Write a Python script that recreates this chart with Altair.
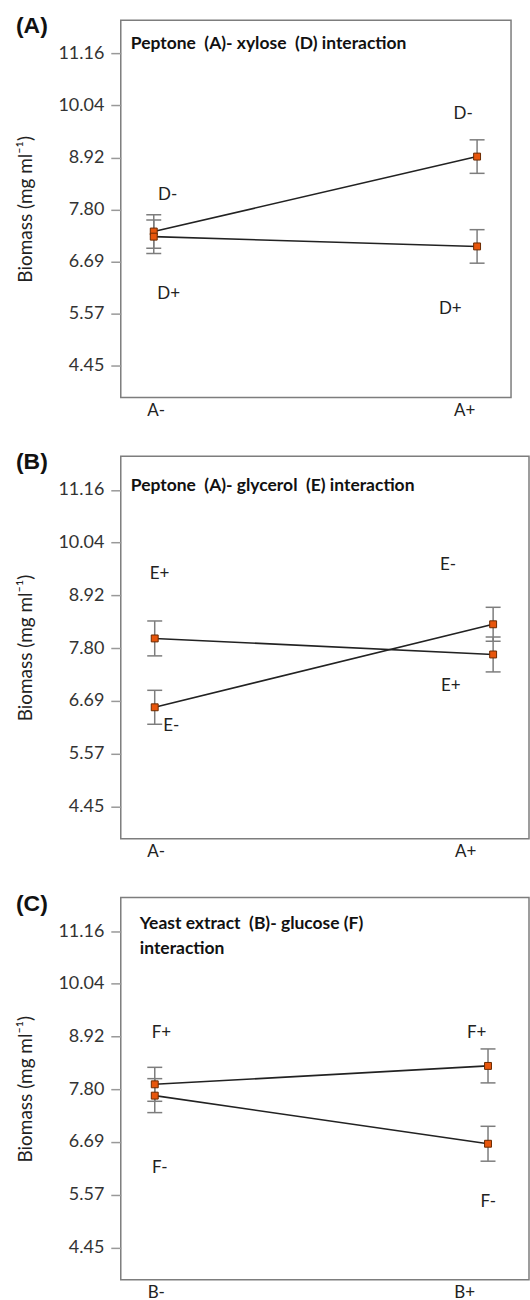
import altair as alt
import pandas as pd

FONT = "Lato"
Y_TICKS = [4.45, 5.57, 6.69, 7.80, 8.92, 10.04, 11.16]
Y_DOMAIN = [3.765, 11.87]
SP2 = "\u00a0 "  # visible double space

# ---------------- Panel A: Peptone (A) - xylose (D)
a_tag = "(A)"
a_title = [f"Peptone{SP2}(A)- xylose{SP2}(D) interaction"]
a_xnames = ["A-", "A+"]
a_series = ["D-", "D-", "D+", "D+"]
a_x = [0, 1, 0, 1]
a_mean = [7.33, 8.94, 7.22, 7.01]
a_err = [0.36, 0.36, 0.36, 0.36]
a_lab_text = ["D-", "D+", "D-", "D+"]
a_lab_x = [0.043, 0.046, 0.957, 0.917]
a_lab_y = [8.12, 5.98, 9.86, 5.66]

# ---------------- Panel B: Peptone (A) - glycerol (E)
b_tag = "(B)"
b_title = [f"Peptone{SP2}(A)- glycerol{SP2}(E) interaction"]
b_xnames = ["A-", "A+"]
b_series = ["E+", "E+", "E-", "E-"]
b_x = [0, 1, 0, 1]
b_mean = [8.01, 7.67, 6.55, 8.31]
b_err = [0.37, 0.37, 0.36, 0.36]
b_lab_text = ["E+", "E-", "E-", "E+"]
b_lab_x = [0.014, 0.049, 0.867, 0.875]
b_lab_y = [9.37, 6.16, 9.56, 7.01]

# ---------------- Panel C: Yeast extract (B) - glucose (F)
c_tag = "(C)"
c_title = [f"Yeast extract{SP2}(B)- glucose (F)", "interaction"]
c_xnames = ["B-", "B+"]
c_series = ["F+", "F+", "F-", "F-"]
c_x = [0, 1, 0, 1]
c_mean = [7.91, 8.30, 7.67, 6.65]
c_err = [0.36, 0.36, 0.36, 0.37]
c_lab_text = ["F+", "F-", "F+", "F-"]
c_lab_x = [0.020, 0.015, 0.966, 1.001]
c_lab_y = [8.99, 6.14, 9.00, 5.42]


def panel(tag, title_lines, title_pos, xnames, series, xs, means, errs,
          lt, lx, ly, width, height, xdom, loffs):
    df = pd.DataFrame({"series": series, "x": xs, "mean": means, "err": errs})
    df["lo"] = df["mean"] - df["err"]
    df["hi"] = df["mean"] + df["err"]
    labs = pd.DataFrame({"t": lt, "lx": lx, "ly": ly})

    xscale = alt.Scale(domain=xdom, nice=False, zero=False)
    yscale = alt.Scale(domain=Y_DOMAIN, nice=False, zero=False)
    xaxis = alt.Axis(
        values=[0, 1],
        labelExpr=f"datum.value < 0.5 ? '{xnames[0]}' : '{xnames[1]}'",
        ticks=False, domain=False, grid=False, title=None,
        labelFont=FONT, labelFontSize=17, labelColor="#222",
        labelPadding=5,
        labelOffset={"condition": {"test": "datum.value < 0.5", "value": loffs[0]},
                     "value": loffs[1]},
    )
    yaxis = alt.Axis(
        values=Y_TICKS, labelExpr="format(datum.value, '.2f')",
        grid=False, domain=False, tickSize=10, tickColor="#999", tickWidth=1.5,
        labelFont=FONT, labelFontSize=18, labelColor="#333", labelPadding=7,
        title="Biomass (mg ml⁻¹)", titleFont=FONT, titleFontSize=19,
        titleFontWeight="normal", titleColor="#222", titlePadding=22,
    )

    def X(f):
        return alt.X(f, type="quantitative", scale=xscale, axis=xaxis)

    def Y(f):
        return alt.Y(f, type="quantitative", scale=yscale, axis=yaxis)

    base = alt.Chart(df)
    rules = base.mark_rule(color="#7d7d7d", strokeWidth=1.5).encode(
        x=X("x"), y=Y("lo"), y2="hi")
    cap_lo = base.mark_tick(orient="horizontal", size=15, thickness=1.5,
                            color="#7d7d7d", opacity=1).encode(x=X("x"), y=Y("lo"))
    cap_hi = base.mark_tick(orient="horizontal", size=15, thickness=1.5,
                            color="#7d7d7d", opacity=1).encode(x=X("x"), y=Y("hi"))
    line = base.mark_line(color="#222", strokeWidth=1.6).encode(
        x=X("x"), y=Y("mean"), detail="series:N")
    pts = base.mark_square(size=48, filled=True, color="#e8560c", stroke="#6b2a00",
                           strokeWidth=1, opacity=1).encode(x=X("x"), y=Y("mean"))
    labels = alt.Chart(labs).mark_text(font=FONT, fontSize=17, color="#222").encode(
        x=X("lx"), y=Y("ly"), text="t:N")

    layers = [rules, cap_lo, cap_hi, line, pts, labels]
    tx, ty = title_pos
    for i, ln in enumerate(title_lines):
        layers.append(
            alt.Chart(pd.DataFrame({"t": [ln]})).mark_text(
                align="left", baseline="middle", font=FONT, fontWeight="bold",
                fontSize=17.5, color="#111").encode(
                x=alt.value(tx), y=alt.value(ty + 25 * i), text="t:N"))
    layers.append(
        alt.Chart(pd.DataFrame({"t": [tag]})).mark_text(
            align="left", baseline="middle", font="Liberation Sans",
            fontWeight="bold", fontSize=23, color="#111").encode(
            x=alt.value(-105), y=alt.value(6), text="t:N"))
    return alt.layer(*layers).properties(width=width, height=height)


pa = panel(a_tag, a_title, (10, 24), a_xnames, a_series, a_x, a_mean, a_err,
           a_lab_text, a_lab_x, a_lab_y, 391, 378, [-0.102, 1.105], (2, -13))
pb = panel(b_tag, b_title, (10, 30), b_xnames, b_series, b_x, b_mean, b_err,
           b_lab_text, b_lab_x, b_lab_y, 409, 383, [-0.1003, 1.106], (1, -28))
pc = panel(c_tag, c_title, (19, 27), c_xnames, c_series, c_x, c_mean, c_err,
           c_lab_text, c_lab_x, c_lab_y, 409, 383, [-0.102, 1.123], (1, -24))

chart = alt.vconcat(pa, pb, pc, spacing=31).properties(
    padding={"left": 15, "top": 13, "right": 0, "bottom": 0}
).configure_view(stroke="#7d7d7d", strokeWidth=1.5)

chart.save("out.html", embed_options={"renderer": "svg", "actions": False})
